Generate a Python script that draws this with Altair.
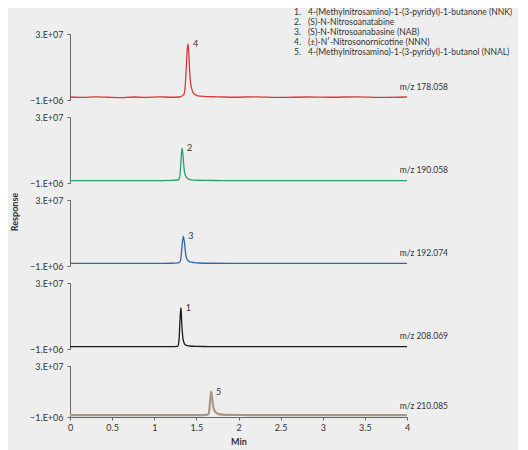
import altair as alt
import pandas as pd

# ---- data (response values in units of 1e6) ----
t_nnn = [0.00, 0.15, 0.30, 0.45, 0.60, 0.75, 0.90, 1.05, 1.20, 1.30, 1.35, 1.37, 1.38, 1.39, 1.40, 1.41, 1.42, 1.43, 1.45, 1.47, 1.50, 1.55, 1.62, 1.75, 1.95, 2.20, 2.50, 2.80, 3.10, 3.40, 3.70, 4.00]
r_nnn = [0.4, 0.2, 0.5, 0.3, 0.1, 0.4, 0.2, 0.5, 0.3, 0.4, 1.5, 7.0, 14.0, 22.0, 25.3, 21.0, 13.0, 7.5, 3.5, 2.0, 1.2, 0.8, 0.6, 0.5, 0.3, 0.5, 0.2, 0.4, 0.3, 0.5, 0.2, 0.4]

t_nat = [0.00, 0.50, 1.00, 1.20, 1.28, 1.30, 1.31, 1.32, 1.33, 1.34, 1.35, 1.36, 1.38, 1.40, 1.44, 1.50, 1.60, 1.80, 2.20, 2.60, 3.00, 3.50, 4.00]
r_nat = [0.1, 0.1, 0.1, 0.2, 0.4, 1.5, 5.0, 11.0, 15.4, 12.5, 7.5, 4.0, 1.8, 1.0, 0.5, 0.3, 0.2, 0.15, 0.1, 0.1, 0.1, 0.1, 0.1]

t_nab = [0.00, 0.50, 1.00, 1.20, 1.29, 1.31, 1.32, 1.33, 1.345, 1.36, 1.37, 1.38, 1.40, 1.43, 1.47, 1.53, 1.65, 1.90, 2.40, 3.00, 3.50, 4.00]
r_nab = [0.2, 0.2, 0.2, 0.3, 0.5, 1.5, 4.0, 8.5, 13.0, 9.5, 5.5, 3.2, 1.6, 0.9, 0.6, 0.4, 0.3, 0.25, 0.2, 0.2, 0.2, 0.2]

t_nnk = [0.00, 0.50, 1.00, 1.20, 1.27, 1.285, 1.295, 1.305, 1.315, 1.32, 1.325, 1.335, 1.345, 1.36, 1.38, 1.42, 1.50, 1.65, 2.00, 2.50, 3.00, 3.50, 4.00]
r_nnk = [0.1, 0.1, 0.1, 0.1, 0.2, 0.8, 4.0, 12.0, 18.3, 17.0, 12.0, 6.0, 3.0, 1.4, 0.7, 0.4, 0.2, 0.15, 0.1, 0.1, 0.1, 0.1, 0.1]

t_nnal = [0.00, 0.50, 1.00, 1.30, 1.50, 1.62, 1.645, 1.655, 1.665, 1.675, 1.685, 1.695, 1.71, 1.73, 1.76, 1.80, 1.90, 2.10, 2.50, 3.00, 3.50, 4.00]
r_nnal = [0.1, 0.1, 0.1, 0.2, 0.2, 0.3, 1.0, 4.0, 10.0, 14.4, 11.5, 7.0, 3.5, 1.8, 0.9, 0.5, 0.3, 0.2, 0.1, 0.1, 0.1, 0.1]

panel_times = [t_nnn, t_nat, t_nab, t_nnk, t_nnal]
panel_resp = [r_nnn, r_nat, r_nab, r_nnk, r_nnal]
panel_colors = ["#d8393b", "#2f9f6c", "#2f69a8", "#1c1c1c", "#a89784"]
panel_mz = ["m/z 178.058", "m/z 190.058", "m/z 192.074", "m/z 208.069", "m/z 210.085"]
peak_labels = ["4", "2", "3", "1", "5"]
peak_times = [1.40, 1.33, 1.345, 1.315, 1.675]
peak_resp = [25.3, 15.4, 13.0, 18.3, 14.4]

y_tick_values = [-1.0, 30.0]
y_tick_labels = ["\u22121.E+06", "3.E+07"]
x_tick_values = [0, 0.5, 1, 1.5, 2, 2.5, 3, 3.5, 4]

legend_numbers = ["1.", "2.", "3.", "4.", "5."]
legend_names = [
    "4-(Methylnitrosamino)-1-(3-pyridyl)-1-butanone (NNK)",
    "(S)-N-Nitrosoanatabine",
    "(S)-N-Nitrosoanabasine (NAB)",
    "(\u00b1)-N\u2032-Nitrosonornicotine (NNN)",
    "4-(Methylnitrosamino)-1-(3-pyridyl)-1-butanol (NNAL)",
]

FONT = "Lato"
TXT = "#333333"
W = 337
heights = [66, 66, 66, 66, 51]

label_expr = "datum.value < 0 ? '%s' : '%s'" % (y_tick_labels[0], y_tick_labels[1])

panels = []
for i in range(5):
    last = i == 4
    df = pd.DataFrame({"t": panel_times[i], "r": panel_resp[i]})
    pk = pd.DataFrame({"t": [peak_times[i]], "r": [peak_resp[i]], "lab": [peak_labels[i]]})

    if last:
        xaxis = alt.Axis(values=x_tick_values, format="~g", title="Min", grid=False, tickSize=3,
                         labelFontSize=9, labelColor=TXT, labelFont=FONT, labelPadding=3,
                         titleFontSize=9, titleFont=FONT, titleFontWeight="bold", titleColor=TXT,
                         titlePadding=5, domainColor="#666666", tickColor="#666666",
                         labelFlush=False)
    else:
        xaxis = None
    x = alt.X("t:Q", scale=alt.Scale(domain=[0, 4], nice=False), axis=xaxis)
    y = alt.Y("r:Q", scale=alt.Scale(domain=[-1.0, 30.0], nice=False, zero=False),
              axis=alt.Axis(values=y_tick_values, labelExpr=label_expr, title=None, grid=False,
                            tickSize=3, labelPadding=4, labelFontSize=9, labelColor=TXT,
                            labelFont=FONT, domainColor="#666666", tickColor="#666666"))

    line = alt.Chart(df).mark_line(color=panel_colors[i], strokeWidth=2.2 if last else 1.3,
                                   interpolate="monotone").encode(x=x, y=y)
    peak = alt.Chart(pk).mark_text(align="left", baseline="middle", dx=5, dy=0,
                                   fontSize=9, font=FONT, color=TXT).encode(x=x, y=y, text="lab:N")
    mz = alt.Chart(pd.DataFrame({"lab": [panel_mz[i]]})).mark_text(
        align="right", baseline="middle", fontSize=8.5, font=FONT, color=TXT
    ).encode(x=alt.value(378), y=alt.value(40 if last else 53), text="lab:N")

    layers = [line, peak, mz]
    if i == 0:
        leg = pd.DataFrame({"num": ["\n".join(legend_numbers)], "txt": ["\n".join(legend_names)]})
        nums = alt.Chart(leg).mark_text(align="left", baseline="top", fontSize=8.5, font=FONT,
                                        color=TXT, lineBreak="\n", lineHeight=10).encode(
            x=alt.value(224), y=alt.value(-26), text="num:N")
        names = alt.Chart(leg).mark_text(align="left", baseline="top", fontSize=8.5, font=FONT,
                                         color=TXT, lineBreak="\n", lineHeight=10).encode(
            x=alt.value(238), y=alt.value(-26), text="txt:N")
        layers += [nums, names]
    if i == 2:
        resp = alt.Chart(pd.DataFrame({"lab": ["Response"]})).mark_text(
            angle=270, align="center", baseline="middle", fontSize=9, font=FONT,
            fontWeight="bold", color=TXT
        ).encode(x=alt.value(-55), y=alt.value(12), text="lab:N")
        layers.append(resp)

    panels.append(alt.layer(*layers).properties(width=W, height=heights[i]))

chart = alt.vconcat(*panels, spacing=17, bounds="flush").properties(
    background="#eeeeee",
    padding={"left": 3, "top": 0, "right": 5, "bottom": 5},
).configure_view(stroke=None)

chart.save("out.html", embed_options={"renderer": "svg", "actions": False})
